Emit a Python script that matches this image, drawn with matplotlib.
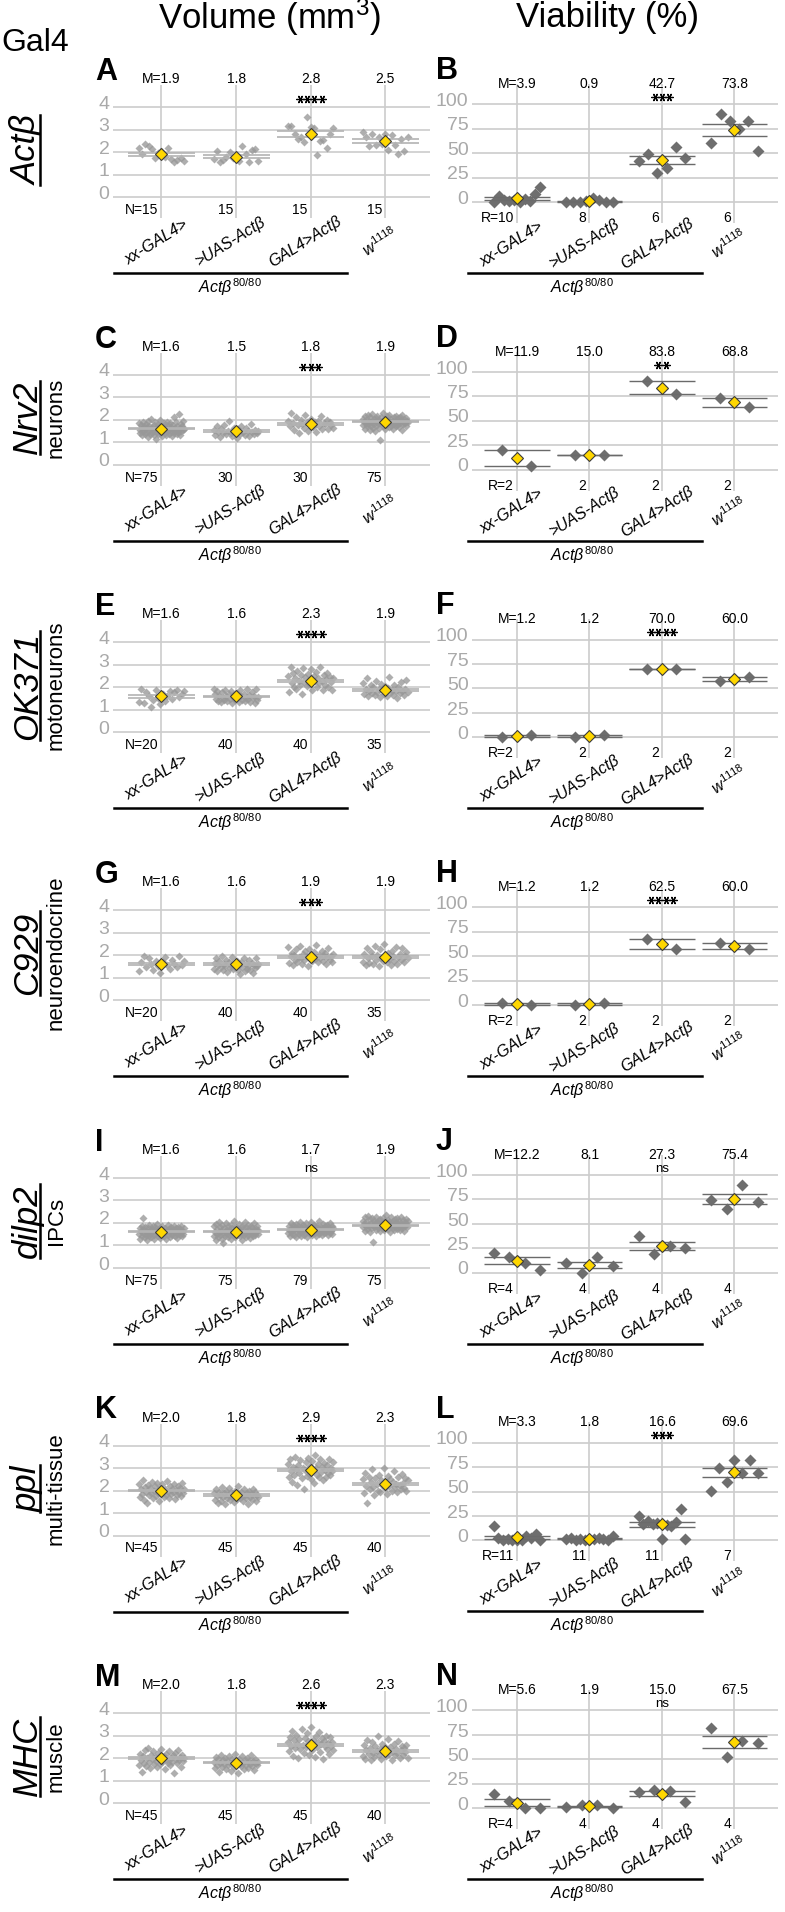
import numpy as np
import matplotlib
matplotlib.use('Agg')
import matplotlib.pyplot as plt
from matplotlib.lines import Line2D

plt.rcParams['font.family'] = ['Liberation Sans', 'DejaVu Sans']
plt.rcParams['mathtext.fontset'] = 'custom'
plt.rcParams['mathtext.rm'] = 'Liberation Sans'
plt.rcParams['mathtext.it'] = 'Liberation Sans:italic'
plt.rcParams['mathtext.bf'] = 'Liberation Sans:bold'

# ---------------- data ----------------
categories = ['xx-GAL4>', '>UAS-Actβ', 'GAL4>Actβ', r'$\mathit{w}^{\mathit{1118}}$']
gal4_names = ['Actβ', 'Nrv2', 'OK371', 'C929', 'dilp2', 'ppl', 'MHC']
gal4_tissue = ['', 'neurons', 'motoneurons', 'neuroendocrine', 'IPCs', 'multi-tissue', 'muscle']
vol_letters = ['A', 'C', 'E', 'G', 'I', 'K', 'M']
via_letters = ['B', 'D', 'F', 'H', 'J', 'L', 'N']

vol_means = [[1.9, 1.8, 2.8, 2.5], [1.6, 1.5, 1.8, 1.9], [1.6, 1.6, 2.3, 1.9],
             [1.6, 1.6, 1.9, 1.9], [1.6, 1.6, 1.7, 1.9], [2.0, 1.8, 2.9, 2.3],
             [2.0, 1.8, 2.6, 2.3]]
vol_n = [[15, 15, 15, 15], [75, 30, 30, 75], [20, 40, 40, 35], [20, 40, 40, 35],
         [75, 75, 79, 75], [45, 45, 45, 40], [45, 45, 45, 40]]
vol_sig = ['****', '***', '****', '***', 'ns', '****', '****']

via_means = [[3.9, 0.9, 42.7, 73.8], [11.9, 15.0, 83.8, 68.8], [1.2, 1.2, 70.0, 60.0],
             [1.2, 1.2, 62.5, 60.0], [12.2, 8.1, 27.3, 75.4], [3.3, 1.8, 16.6, 69.6],
             [5.6, 1.9, 15.0, 67.5]]
via_r = [[10, 8, 6, 6], [2, 2, 2, 2], [2, 2, 2, 2], [2, 2, 2, 2], [4, 4, 4, 4],
         [11, 11, 11, 7], [4, 4, 4, 4]]
via_sig = ['***', '**', '****', '****', 'ns', '***', 'ns']

vol_A = [[2.2, 1.9, 2.35, 2.25, 2.15, 1.75, 1.95, 2.05, 1.8, 2.2, 1.7, 1.55, 1.65, 1.75, 1.6],
         [1.7, 2.05, 1.55, 1.65, 1.8, 2.0, 1.75, 1.85, 1.6, 2.25, 1.9, 1.55, 2.1, 2.15, 1.6],
         [3.15, 3.15, 2.8, 2.6, 2.65, 2.45, 3.55, 3.1, 3.05, 1.85, 2.5, 2.55, 2.2, 2.8, 3.05],
         [2.9, 2.65, 2.25, 2.8, 2.3, 2.65, 2.35, 2.8, 2.1, 2.75, 2.3, 1.9, 2.6, 2.05, 2.65]]

vol_C = [[1.85, 1.55, 1.40, 1.75, 1.62, 1.30, 1.90, 1.48, 1.70, 1.35,
          1.58, 1.82, 1.45, 1.66, 1.25, 1.95, 1.52, 1.72, 1.38, 1.60,
          2.05, 1.42, 1.68, 1.50, 1.78, 1.33, 1.88, 1.57, 1.15, 1.64,
          1.47, 1.80, 1.36, 1.70, 1.55, 2.00, 1.43, 1.62, 1.28, 1.74,
          1.52, 1.86, 1.40, 1.66, 1.58, 1.32, 1.92, 1.49, 1.71, 1.38,
          1.60, 1.84, 1.45, 1.68, 1.26, 1.78, 1.53, 2.10, 1.41, 1.65,
          1.50, 1.88, 1.35, 1.72, 1.56, 1.44, 2.25, 1.62, 1.30, 1.80,
          1.48, 1.70, 1.54, 1.95, 1.60],
         [1.55, 1.30, 1.70, 1.45, 1.25, 1.60, 1.40, 1.75, 1.35, 1.52,
          1.95, 1.42, 1.28, 1.65, 1.48, 1.20, 1.58, 1.38, 1.72, 1.45,
          1.32, 1.62, 1.50, 1.26, 1.80, 1.44, 1.36, 1.55, 1.40, 1.48],
         [1.95, 1.70, 2.30, 1.85, 1.55, 2.10, 1.75, 1.40, 2.00, 1.82,
          1.62, 2.20, 1.90, 1.50, 1.78, 2.05, 1.68, 1.88, 1.45, 1.95,
          1.72, 2.15, 1.60, 1.85, 1.80, 2.00, 1.58, 1.92, 1.75, 1.65],
         [1.75, 2.05, 1.90, 1.60, 2.15, 1.85, 1.98, 1.70, 2.20, 1.80,
          1.95, 1.55, 2.10, 1.88, 1.72, 2.25, 1.92, 1.65, 2.02, 1.82,
          1.50, 2.08, 1.95, 1.78, 2.18, 1.86, 1.62, 2.00, 1.90, 1.12,
          2.12, 1.84, 1.96, 1.70, 2.28, 1.88, 1.58, 2.05, 1.93, 1.76,
          2.15, 1.80, 1.98, 1.66, 2.22, 1.90, 1.74, 2.02, 1.85, 1.95,
          1.60, 2.10, 1.82, 1.92, 1.70, 2.18, 1.88, 1.78, 2.06, 1.94,
          1.68, 2.14, 1.86, 1.98, 1.55, 2.20, 1.90, 1.80, 2.04, 1.84,
          1.92, 1.72, 2.08, 1.96, 1.88]]

vol_E = [[1.35, 1.95, 1.30, 1.80, 1.60, 1.15, 1.45, 1.90, 1.55, 1.25,
          1.70, 1.40, 1.62, 1.85, 1.50, 1.78, 1.88, 1.58, 1.72, 1.85],
         [1.95, 1.70, 1.50, 1.85, 1.40, 1.62, 1.35, 1.78, 1.55, 1.45,
          1.90, 1.60, 1.38, 1.72, 1.48, 1.82, 1.30, 1.65, 1.52, 1.42,
          1.75, 1.58, 1.35, 1.88, 1.62, 1.45, 1.70, 1.38, 1.55, 1.95,
          1.48, 1.68, 1.35, 1.80, 1.52, 1.60, 1.32, 1.92, 1.45, 1.58],
         [2.50, 1.80, 2.90, 2.20, 2.65, 2.00, 2.40, 1.95, 2.75, 2.30,
          2.10, 2.55, 1.72, 2.85, 2.25, 2.45, 2.05, 2.60, 2.15, 2.35,
          2.80, 1.90, 2.50, 2.28, 2.70, 2.00, 2.42, 2.18, 2.92, 2.30,
          1.88, 2.55, 2.10, 2.38, 2.62, 2.00, 2.45, 2.25, 1.90, 2.40],
         [2.20, 1.70, 1.95, 2.40, 1.60, 1.85, 2.10, 1.75, 2.00, 1.65,
          2.30, 1.80, 1.92, 1.58, 2.15, 1.88, 1.72, 2.05, 1.62, 1.98,
          2.45, 1.78, 1.90, 1.68, 2.12, 1.82, 1.55, 2.00, 1.75, 2.22,
          1.85, 1.65, 1.95, 2.35, 1.80]]

vol_G = [[1.30, 1.70, 1.95, 1.45, 1.85, 1.60, 1.35, 1.75, 1.50, 1.22,
          1.68, 1.90, 1.55, 1.40, 1.78, 1.62, 1.48, 1.95, 1.58, 1.72],
         [1.40, 1.65, 1.85, 1.30, 1.55, 1.72, 1.45, 1.95, 1.35, 1.60,
          1.50, 1.80, 1.25, 1.68, 1.42, 1.58, 1.90, 1.38, 1.62, 1.48,
          1.75, 1.32, 1.55, 1.15, 1.70, 1.45, 1.85, 1.28, 1.60, 1.40,
          1.52, 1.78, 1.35, 1.65, 1.20, 1.58, 1.42, 1.88, 1.50, 1.62],
         [2.35, 1.65, 1.95, 2.10, 1.55, 2.00, 1.80, 2.25, 1.70, 1.92,
          2.40, 1.85, 1.62, 2.05, 1.78, 2.18, 1.95, 1.50, 2.28, 1.88,
          1.98, 1.72, 2.12, 1.82, 2.45, 1.90, 1.68, 2.02, 1.85, 2.20,
          1.75, 1.95, 2.08, 1.60, 1.92, 2.30, 1.80, 1.98, 1.70, 2.05],
         [1.70, 2.05, 1.55, 2.30, 1.85, 1.65, 2.15, 1.95, 1.60, 2.40,
          1.78, 2.00, 1.52, 2.25, 1.88, 1.72, 2.48, 1.92, 1.68, 2.10,
          1.82, 1.58, 2.20, 1.98, 1.75, 2.35, 1.62, 1.90, 2.05, 1.80,
          2.30, 1.70, 1.95, 2.15, 1.85]]

vol_I = [[1.50, 1.75, 1.30, 1.62, 1.88, 1.40, 2.20, 1.55, 1.70, 1.35,
          1.82, 1.48, 1.65, 1.25, 1.78, 1.58, 1.42, 1.90, 1.52, 1.68,
          1.38, 1.72, 1.60, 1.85, 1.45, 1.28, 1.66, 1.80, 1.50, 1.62,
          1.95, 1.42, 1.70, 1.55, 1.33, 1.75, 1.60, 1.48, 1.86, 1.52,
          1.64, 1.40, 1.78, 1.56, 1.30, 1.70, 1.62, 1.92, 1.46, 1.58,
          1.74, 1.36, 1.66, 1.82, 1.50, 1.44, 1.70, 1.58, 1.88, 1.40,
          1.62, 1.76, 1.52, 1.34, 1.68, 1.80, 1.55, 1.46, 1.72, 1.60,
          1.85, 1.42, 1.64, 1.52, 1.78],
         [1.40, 1.85, 1.60, 1.25, 1.95, 1.50, 1.72, 1.35, 2.05, 1.58,
          1.45, 1.80, 1.65, 1.30, 1.90, 1.52, 1.10, 1.75, 1.62, 1.42,
          2.00, 1.55, 1.68, 1.38, 1.85, 1.48, 1.70, 1.60, 1.28, 1.92,
          1.55, 1.78, 1.44, 1.65, 2.08, 1.50, 1.35, 1.82, 1.62, 1.46,
          1.72, 1.58, 1.95, 1.40, 1.68, 1.52, 1.25, 1.88, 1.60, 1.75,
          1.45, 2.02, 1.56, 1.38, 1.80, 1.64, 1.48, 1.90, 1.54, 1.70,
          1.32, 1.85, 1.60, 1.50, 1.78, 1.42, 1.66, 1.98, 1.55, 1.45,
          1.72, 1.62, 1.88, 1.52, 1.68],
         [1.55, 1.85, 1.70, 1.40, 2.00, 1.62, 1.78, 1.50, 1.92, 1.68,
          1.45, 1.82, 1.72, 1.35, 1.95, 1.60, 1.75, 1.88, 1.52, 1.66,
          2.05, 1.58, 1.80, 1.42, 1.70, 1.90, 1.64, 1.48, 1.84, 1.74,
          1.56, 1.98, 1.68, 1.38, 1.78, 1.62, 1.86, 1.52, 1.72, 2.02,
          1.60, 1.80, 1.46, 1.70, 1.92, 1.66, 1.55, 1.84, 1.74, 1.42,
          1.88, 1.64, 1.76, 1.50, 2.08, 1.68, 1.58, 1.82, 1.72, 1.45,
          1.95, 1.62, 1.78, 1.54, 1.86, 1.70, 1.60, 1.90, 1.66, 1.48,
          1.80, 1.74, 1.56, 1.98, 1.68, 1.62, 1.84, 1.52, 1.76],
         [1.80, 2.10, 1.95, 1.65, 2.25, 1.88, 2.02, 1.72, 2.30, 1.92,
          1.85, 2.15, 1.60, 2.00, 1.78, 2.20, 1.90, 1.15, 2.08, 1.82,
          1.98, 1.70, 2.28, 1.86, 2.05, 1.75, 2.12, 1.94, 1.62, 2.18,
          1.84, 2.00, 1.76, 2.22, 1.90, 1.68, 2.06, 1.96, 1.80, 2.35,
          1.88, 2.14, 1.72, 2.02, 1.92, 1.58, 2.24, 1.84, 1.98, 1.78,
          2.10, 1.90, 1.66, 2.16, 1.86, 2.04, 1.74, 2.20, 1.94, 1.82,
          2.08, 1.70, 1.96, 2.26, 1.88, 1.78, 2.12, 1.92, 1.64, 2.02,
          1.86, 2.18, 1.96, 1.80, 2.06]]

vol_K = [[2.30, 1.70, 2.05, 1.85, 2.45, 1.60, 2.15, 1.95, 1.45, 2.25,
          1.80, 2.10, 1.90, 2.40, 1.65, 2.00, 2.20, 1.75, 2.35, 1.88,
          1.55, 2.12, 1.98, 2.28, 1.72, 2.05, 1.82, 2.42, 1.92, 1.68,
          2.18, 1.85, 2.08, 1.95, 2.30, 1.62, 2.02, 1.78, 2.20, 1.90,
          2.12, 1.75, 2.35, 1.88, 2.05],
         [1.90, 1.60, 2.05, 1.75, 1.45, 1.95, 1.82, 1.55, 2.15, 1.70,
          1.88, 1.40, 1.98, 1.65, 1.80, 2.10, 1.58, 1.92, 1.72, 1.85,
          1.50, 2.00, 1.78, 1.62, 2.18, 1.85, 1.68, 1.95, 1.75, 1.52,
          2.05, 1.80, 1.65, 1.90, 1.38, 1.98, 1.72, 1.85, 1.60, 2.08,
          1.78, 1.92, 1.55, 1.82, 1.70],
         [3.20, 2.60, 3.40, 2.85, 2.40, 3.05, 2.70, 3.50, 2.95, 2.25,
          3.15, 2.80, 3.35, 2.55, 3.00, 2.05, 2.90, 3.25, 2.65, 3.45,
          2.75, 3.10, 2.50, 3.30, 2.88, 2.35, 3.60, 2.98, 2.70, 3.18,
          2.62, 3.38, 2.82, 3.05, 2.45, 3.22, 2.92, 2.58, 3.12, 2.78,
          3.42, 2.68, 3.00, 2.85, 3.28],
         [2.50, 1.90, 2.80, 2.20, 1.45, 2.60, 2.05, 2.40, 2.95, 2.15,
          1.80, 2.55, 2.30, 2.00, 2.70, 1.95, 2.45, 2.25, 3.00, 2.10,
          2.35, 1.85, 2.65, 2.20, 2.50, 1.98, 2.40, 2.85, 2.15, 2.30,
          1.92, 2.60, 2.25, 2.05, 2.75, 2.35, 2.10, 2.55, 2.00, 2.45]]

vol_M = [[1.70, 2.20, 1.90, 1.40, 2.10, 1.80, 2.35, 1.65, 2.00, 2.45,
          1.85, 1.55, 2.15, 1.95, 2.30, 1.75, 2.05, 1.88, 1.60, 2.25,
          1.98, 1.72, 2.40, 1.82, 2.08, 1.50, 2.18, 1.92, 1.78, 2.32,
          1.68, 2.02, 1.85, 2.12, 1.35, 2.22, 1.95, 1.80, 2.38, 1.90,
          2.05, 1.62, 2.15, 1.88, 2.00],
         [1.85, 1.55, 2.05, 1.70, 1.95, 1.40, 1.80, 2.15, 1.62, 1.90,
          1.75, 2.00, 1.50, 1.88, 1.68, 2.10, 1.78, 1.45, 1.95, 1.82,
          1.60, 2.18, 1.72, 1.85, 1.35, 1.98, 1.76, 1.65, 2.08, 1.80,
          1.52, 1.92, 1.70, 2.02, 1.58, 1.86, 1.74, 2.12, 1.64, 1.88,
          1.48, 1.96, 1.78, 1.68, 1.84],
         [2.70, 2.30, 2.95, 2.55, 3.20, 2.10, 2.80, 2.45, 3.05, 2.65,
          2.00, 2.85, 2.40, 3.30, 2.60, 2.25, 2.90, 2.50, 3.10, 2.75,
          2.15, 2.68, 3.40, 2.35, 2.82, 2.58, 2.05, 2.98, 2.48, 2.72,
          3.15, 2.28, 2.62, 2.88, 1.95, 2.78, 2.52, 3.00, 2.42, 2.66,
          2.20, 2.92, 2.56, 2.74, 2.38],
         [2.10, 2.60, 1.95, 2.35, 2.80, 2.20, 2.45, 1.90, 2.70, 2.25,
          2.05, 2.55, 2.30, 3.00, 2.15, 2.40, 1.98, 2.65, 2.28, 2.50,
          2.08, 2.38, 2.85, 2.18, 2.48, 1.92, 2.32, 2.62, 2.12, 2.42,
          2.22, 2.75, 2.02, 2.36, 2.52, 2.15, 2.44, 2.26, 2.58, 2.00]]

via_B = [[0, 6, 2, 1, 2, 0, 3, 1, 8, 15], [0, 0, 0, 1, 4, 2, 0, 0],
         [42, 49, 30, 35, 56, 45], [60, 90, 83, 75, 83, 52]]
via_D = [[20.3, 3.5], [15, 15], [90.5, 77], [73.3, 64.3]]
via_F = [[0, 2.4], [0, 2.4], [70, 70], [58, 62]]
via_H = [[2.5, 0], [0, 2.5], [68, 57], [63, 57]]
via_J = [[20, 16, 10, 3], [10, 0, 16, 6.5], [38, 19, 27, 25.2], [74, 65, 90, 72.6]]
via_L = [[15, 3, 0, 2, 0, 1, 0, 5, 3, 7, 1], [2, 3, 0, 2, 1, 0, 2, 3, 2, 0, 5],
         [25, 17, 20, 17, 18, 2, 16, 15, 19, 32, 2], [51, 74, 60, 82, 69, 82, 69]]
via_N = [[15, 7, 0, 0.5], [1, 3, 3.6, 0], [17, 19, 18, 6], [82, 52, 69, 67]]

vol_ticks = [0, 1, 2, 3, 4]
via_ticks = [0, 25, 50, 75, 100]

vol_data = [vol_A, vol_C, vol_E, vol_G, vol_I, vol_K, vol_M]
via_data = [via_B, via_D, via_F, via_H, via_J, via_L, via_N]

# ---------------- layout ----------------
W, H = 785, 1912
ROW = 267.7
fig = plt.figure(figsize=(W / 100, H / 100), dpi=100)

GRID = '#cccccc'
TICKC = '#a9a9a9'
YELLOW = '#FFD700'


def add_axes_px(left, top, width, height):
    return fig.add_axes([left / W, 1 - (top + height) / H, width / W, height / H])


def draw_panel(ax, groups, means, counts, prefix, sig, kind):
    if kind == 'vol':
        xlim, ylim, ticks = (-0.65, 3.6), (-1.0, 5.0), vol_ticks
        u = 22.5          # px per data unit
        upx = 74.6        # px per category
        ptc, pta, ptms = '#989898', 0.78, 3.8
        semc, semlw = '#b3b3b3', 1.2
        spread_max = 0.30
    else:
        xlim, ylim, ticks = (-0.62, 3.6), (-22.0, 128.0), via_ticks
        u = 0.978
        upx = 72.5
        ptc, pta, ptms = '#6e6e6e', 1.0, 6.6
        semc, semlw = '#6a6a6a', 1.0
        spread_max = 0.32
    px = 1.0 / u
    ax.set_xlim(*xlim)
    ax.set_ylim(*ylim)
    ax.axis('off')
    # grid
    ax.hlines(ticks, xlim[0], xlim[1], colors=GRID, lw=1.2, zorder=0)
    for i in range(4):
        ax.vlines(i, -21 * px, 118 * px if kind == 'via' else 112 * px,
                  colors=GRID, lw=1.2, zorder=0, clip_on=False)
    # tick labels
    for v in ticks:
        ax.text(xlim[0] - 3.5 / upx, v - 1.7 * px, str(v), ha='right', va='baseline',
                fontsize=14, color=TICKC, clip_on=False)
    for i, g in enumerate(groups):
        g = np.asarray(g, dtype=float)
        n = len(g)
        spread = min(spread_max, 0.1 * n)
        offs = np.linspace(-spread, spread, n) if n > 1 else np.zeros(1)
        ax.plot(i + offs, g, 'D', ms=ptms, color=ptc, alpha=pta, mec='none', zorder=2)
        sem = np.std(g, ddof=1) / np.sqrt(n)
        ax.hlines([means[i] - sem, means[i] + sem], i - 0.45, i + 0.45,
                  colors=semc, lw=semlw, zorder=3)
        ax.plot(i, means[i], 'D', ms=6.0, mfc=YELLOW, mec='#3a3a3a', mew=0.8, zorder=5)
        # mean label
        lab = ('M=' if i == 0 else '') + f'{means[i]:.1f}'
        ax.text(i, 118 * px, lab, ha='center', va='center', fontsize=10, clip_on=False)
        lab = (prefix + '=' if i == 0 else '') + str(counts[i])
        ax.text(i - 3 / upx, (-13 if kind == 'vol' else -16) * px, lab, ha='right',
                va='center', fontsize=10, clip_on=False)
        # category labels
        ax.text(i - 0.07, -45 * px if kind == 'vol' else -42 * px, categories[i],
                rotation=32, rotation_mode='anchor', ha='center', va='center',
                fontsize=11.5, style='italic', clip_on=False)
    # significance
    if sig == 'ns':
        ax.text(2, 99 * px if kind == 'vol' else 104 * px, 'ns', ha='center',
                va='center', fontsize=9.5, clip_on=False)
    else:
        k = len(sig)
        step = 7.3 / upx
        xs = 2 + (np.arange(k) - (k - 1) / 2) * step
        ax.plot(xs, [98 * px if kind == 'vol' else 105 * px] * k, ls='none',
                marker=(6, 2, 90), ms=5.8, mew=0.9, color='black', clip_on=False, zorder=6)
    # genotype bar
    if kind == 'vol':
        ax.plot([-0.63, 2.49], [-76 * px] * 2, color='black', lw=1.8, clip_on=False)
        ax.text(0.92, -90 * px, r'$\mathit{Actβ}^{\mathit{80/80}}$', ha='center',
                va='center', fontsize=11.5, clip_on=False)
    else:
        ax.plot([-0.675, 2.55], [-71 * px] * 2, color='black', lw=1.8, clip_on=False)
        ax.text(0.90, -85 * px, r'$\mathit{Actβ}^{\mathit{80/80}}$', ha='center',
                va='center', fontsize=11.5, clip_on=False)


main_labels = []
for r in range(7):
    oy = r * ROW
    axl = add_axes_px(113, 84.5 + oy, 317, 135)
    draw_panel(axl, vol_data[r], vol_means[r], vol_n[r], 'N', vol_sig[r], 'vol')
    axr = add_axes_px(472, 76.8 + oy, 306, 146.7)
    draw_panel(axr, via_data[r], via_means[r], via_r[r], 'R', via_sig[r], 'via')

    fig.text(95 / W, 1 - (72 + oy) / H, vol_letters[r], ha='left', va='center',
             fontsize=22, fontweight='bold')
    fig.text(436 / W, 1 - (71 + oy) / H, via_letters[r], ha='left', va='center',
             fontsize=22, fontweight='bold')

    cy = 150 + oy
    t = fig.text(37 / W, 1 - cy / H, gal4_names[r], rotation=90, rotation_mode='anchor',
                 ha='center', va='baseline', fontsize=25, style='italic')
    main_labels.append(t)
    if gal4_tissue[r]:
        fig.text(62 / W, 1 - cy / H, gal4_tissue[r], rotation=90, rotation_mode='anchor',
                 ha='center', va='baseline', fontsize=16)

fig.text(270 / W, 1 - 17 / H, 'Volume (mm$^{3}$)', ha='center', va='center', fontsize=25)
fig.text(607 / W, 1 - 18 / H, 'Viability (%)', ha='center', va='center', fontsize=25)
fig.text(1 / W, 1 - 43 / H, 'Gal4', ha='left', va='center', fontsize=23)

fig.canvas.draw()
renderer = fig.canvas.get_renderer()
for t in main_labels:
    bb = t.get_window_extent(renderer=renderer)
    fig.add_artist(Line2D([40 / W, 40 / W], [bb.y0 / H, bb.y1 / H],
                          transform=fig.transFigure, color='black', lw=1.8))

fig.savefig('out.png', dpi=100)
